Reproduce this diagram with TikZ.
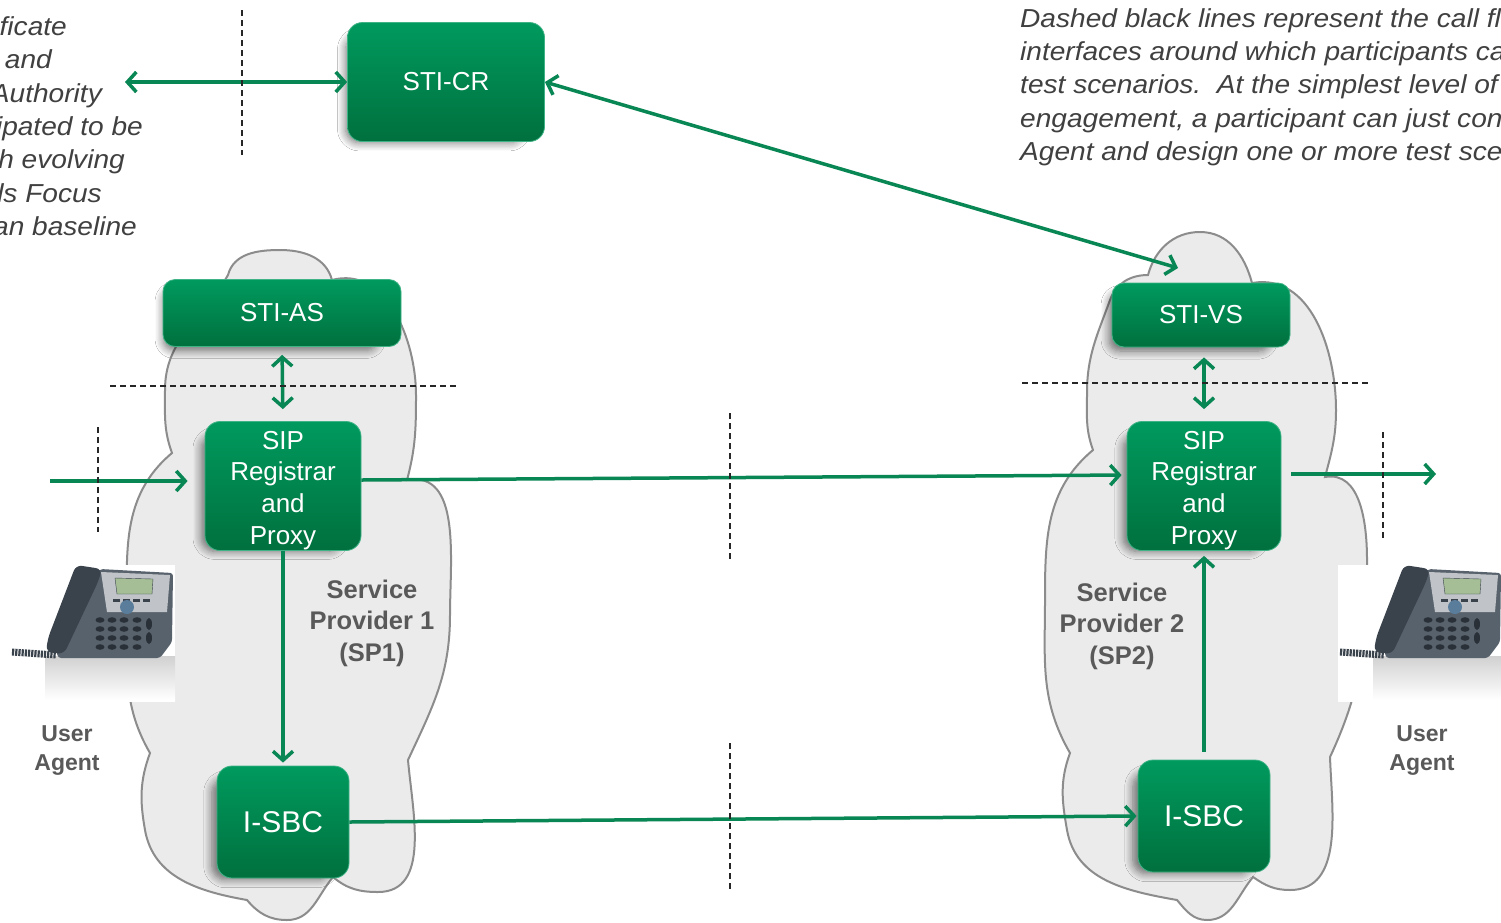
\documentclass[tikz,border=0pt]{standalone}
\usepackage{fontspec}
\setmainfont{Liberation Sans}
\newfontfamily\notefont[FakeStretch=1.08]{Liberation Sans}
\usetikzlibrary{arrows.meta,shadows.blur}
\definecolor{boxTop}{RGB}{0,154,94}
\definecolor{boxBot}{RGB}{0,112,62}
\definecolor{flowGreen}{RGB}{8,134,84}
\definecolor{cloudFill}{RGB}{235,235,235}
\definecolor{cloudLine}{RGB}{140,140,140}
\definecolor{noteGray}{RGB}{64,64,64}
\definecolor{labelGray}{RGB}{89,89,89}
\definecolor{phoneDark}{RGB}{58,66,76}
\definecolor{phoneBody}{RGB}{88,98,108}
\definecolor{phoneSilver}{RGB}{192,196,200}
\definecolor{phoneScreen}{RGB}{165,190,150}
\definecolor{phoneNav}{RGB}{90,125,155}
\definecolor{phoneKey}{RGB}{42,48,56}
\tikzset{
    gbox/.style={rectangle, rounded corners=15pt, top color=boxTop, bottom color=boxBot,
        draw=boxTop!75!white, line width=0.8pt, text=white, align=center, inner sep=0pt,
        font=\fontsize{26}{31.7}\selectfont,
        blur shadow={shadow xshift=-13pt, shadow yshift=-8pt, shadow scale=0.9,
            shadow blur radius=9pt, shadow blur steps=8, shadow opacity=55}},
    flow/.style={draw=flowGreen, line width=3.5pt, -{Straight Barb[length=9pt,width=20pt]}},
    twoway/.style={flow, {Straight Barb[length=9pt,width=20pt]}-{Straight Barb[length=9pt,width=20pt]}},
    cut/.style={draw=black!85, line width=1.4pt, dash pattern=on 6pt off 4pt},
    spcloud/.style={fill=cloudFill, draw=cloudLine, line width=2pt},
    note/.style={font=\notefont\itshape\fontsize{26}{33}\selectfont, text=noteGray, inner sep=0pt},
    splabel/.style={font=\bfseries\fontsize{25.5}{31.5}\selectfont, text=labelGray, align=center},
    ualabel/.style={font=\bfseries\fontsize{23}{29}\selectfont, text=labelGray, align=center}
}
\newcommand{\deskphone}{%
  \fill[white] (10,-565) rectangle (175,-702);
  \shade[top color=black!18, bottom color=white] (45,-656) rectangle (175,-700);
  \draw[phoneDark, line width=7pt, dash pattern=on 2.2pt off 1pt] (12,-652) -- (56,-655);
  \fill[phoneBody, rounded corners=3pt] (100,-569) -- (173,-573) -- (172,-642) -- (160,-658) -- (58,-658) -- (56,-648) -- cycle;
  \fill[phoneSilver] (101,-572) -- (170,-575) -- (167,-612) -- (107,-612) -- cycle;
  \filldraw[fill=phoneScreen, draw=phoneDark] (115,-578) -- (153,-579) -- (152,-594) -- (117,-594) -- cycle;
  \foreach \kx in {113,123,133,143} \fill[phoneDark] (\kx,-599) rectangle ++(7pt,-2.5pt);
  \fill[phoneNav] (127,-607) circle (7pt);
  \foreach \ky in {-620,-629,-638,-647} {
    \foreach \kx in {100,112,124,137} \fill[phoneKey] (\kx,\ky) ellipse (4.5pt and 2.8pt);
  }
  \foreach \ky in {-624,-638} \fill[phoneKey] (149,\ky) ellipse (3pt and 6pt);
  \fill[phoneDark, rounded corners=6pt] (76,-565) -- (102,-569) -- (98,-582) -- (64,-654) -- (46,-652) -- (48,-638) -- cycle;
}

\begin{document}
\begin{tikzpicture}[x=1pt,y=1pt]
\useasboundingbox (0,0) rectangle (1501,-922);
\fill[white] (0,0) rectangle (1501,-922);

% service provider clouds
\draw[spcloud] (228,-275) to[out=75,in=180] (280,-250) to[out=0,in=105] (332,-280)
    to[out=15,in=90] (416,-395) to[out=-90,in=75] (407,-480)
    to[out=10,in=90] (450,-615) to[out=-90,in=65] (408,-760)
    to[out=-85,in=0] (378,-892) to[out=180,in=-40] (333,-877)
    to[out=-130,in=0] (287,-920) to[out=180,in=-50] (247,-900)
    to[out=170,in=-80] (145,-830) to[out=100,in=-110] (150,-753)
    to[out=120,in=-90] (127,-620) to[out=90,in=-140] (172,-453)
    to[out=110,in=-90] (165,-390) to[out=90,in=-120] (228,-275) -- cycle;
\draw[spcloud] (1148,-275) to[out=75,in=180] (1200,-232) to[out=0,in=105] (1252,-283)
    to[out=10,in=90] (1336,-410) to[out=-90,in=75] (1325,-477)
    to[out=10,in=90] (1367,-560) to[out=-90,in=65] (1330,-757)
    to[out=-88,in=0] (1290,-890) to[out=180,in=-35] (1253,-877)
    to[out=-130,in=0] (1207,-920) to[out=180,in=-50] (1177,-900)
    to[out=170,in=-80] (1067,-830) to[out=100,in=-110] (1070,-753)
    to[out=120,in=-90] (1045,-600) to[out=90,in=-140] (1093,-450)
    to[out=110,in=-90] (1087,-393) to[out=90,in=-110] (1110,-300)
    to[out=70,in=180] (1148,-275) -- cycle;

% user agents
\deskphone
\begin{scope}[xshift=1328pt]
\deskphone
\end{scope}

% functions
\node[gbox, minimum width=197pt, minimum height=119pt] (cr) at (446,-82) {STI-CR};
\node[gbox, minimum width=238pt, minimum height=67pt, rounded corners=12pt] (as1) at (282,-313) {STI-AS};
\node[gbox, minimum width=156pt, minimum height=129pt] (sip1) at (283,-486) {\rule{0pt}{27pt}SIP\\Registrar\\and\\Proxy};
\node[gbox, minimum width=132pt, minimum height=112pt, font=\fontsize{30}{36}\selectfont] (sbc1) at (283,-822) {I-SBC};
\node[gbox, minimum width=178pt, minimum height=64pt, rounded corners=12pt] (vs2) at (1201,-315) {STI-VS};
\node[gbox, minimum width=154pt, minimum height=129pt] (sip2) at (1204,-486) {\rule{0pt}{27pt}SIP\\Registrar\\and\\Proxy};
\node[gbox, minimum width=132pt, minimum height=112pt, font=\fontsize{30}{36}\selectfont] (sbc2) at (1204,-816) {I-SBC};

\coordinate (caleft) at (125,-82);
\coordinate (vsin) at (1178,-268);
\coordinate (uain) at (50,-481);
\coordinate (uaout) at (1436,-474);

% call flows
\draw[twoway] (caleft) -- (cr.west);
\draw[twoway] (cr.east) -- (vsin);
\draw[twoway, shorten <=8pt, shorten >=12pt] (as1.south) -- (sip1.north);
\draw[twoway, shorten <=10pt, shorten >=12pt] (vs2.south -| sip2.north) -- (sip2.north);
\draw[flow, shorten >=17pt] (uain) -- (uain -| sip1.west);
\draw[flow, shorten >=5pt] ([yshift=6pt]sip1.east) -- ([yshift=11pt]sip2.west);
\draw[flow, shorten <=10pt] ([yshift=12pt]sip2.east) -- (uaout);
\draw[flow, shorten >=3pt] (sip1.south) -- (sbc1.north);
\draw[flow, shorten >=1pt] (sbc1.east) -- (sbc2.west);
\draw[flow, shorten <=8pt, shorten >=5pt] (sbc2.north) -- (sip2.south);

% test interfaces
\draw[cut] (242,-10) -- (242,-155);
\draw[cut] (110,-386) -- (458,-386);
\draw[cut] (98,-427) -- (98,-532);
\draw[cut] (730,-413) -- (730,-560);
\draw[cut] (730,-743) -- (730,-890);
\draw[cut] (1022,-383) -- (1370,-383);
\draw[cut] (1383,-432) -- (1383,-538);

% labels
\node[splabel] (sp1) at (372,-623) {Service\\Provider 1\\(SP1)};
\node[splabel] (sp2) at (1122,-626) {Service\\Provider 2\\(SP2)};
\node[ualabel] (ua1) at (67,-751) {User\\Agent};
\node[ualabel] (ua2) at (1422,-751) {User\\Agent};

% notes
\node[note, anchor=base east] (n1) at (67,-35) {ficate};
\node[note, anchor=base east] (n2) at (52,-68) {and};
\node[note, anchor=base east] (n3) at (102,-102) {Authority};
\node[note, anchor=base east] (n4) at (143,-135) {ipated to be};
\node[note, anchor=base east] (n5) at (125,-168) {h evolving};
\node[note, anchor=base east] (n6) at (102,-202) {ds Focus};
\node[note, anchor=base east] (n7) at (137,-235) {an baseline};
\node[note, anchor=base west] (m1) at (1020,-27) {Dashed black lines represent the call fl};
\node[note, anchor=base west] (m2) at (1020,-60) {interfaces around which participants ca};
\node[note, anchor=base west] (m3) at (1020,-93) {test scenarios.\ \ At the simplest level of};
\node[note, anchor=base west] (m4) at (1020,-127) {engagement, a participant can just con};
\node[note, anchor=base west] (m5) at (1020,-160) {Agent and design one or more test sce};
\end{tikzpicture}
\end{document}
